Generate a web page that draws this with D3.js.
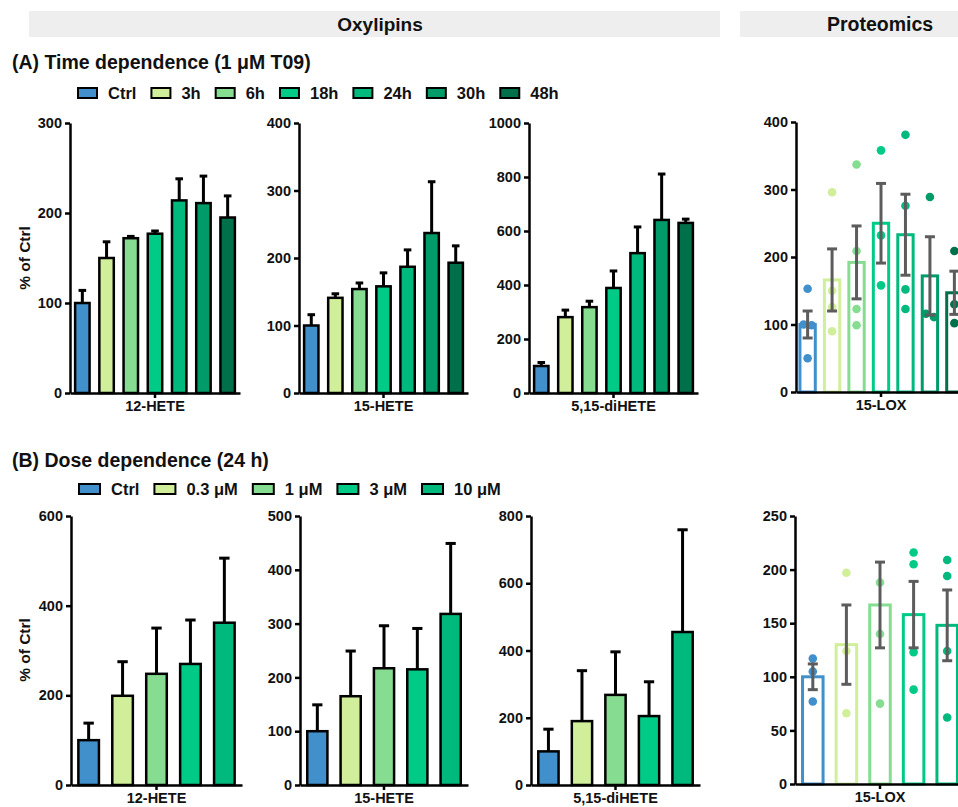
<!DOCTYPE html>
<html>
<head>
<meta charset="utf-8">
<script src="https://cdn.jsdelivr.net/npm/d3@7"></script>
<style>
  body { margin: 0; background: #fff; }
  svg { display: block; font-family: "Liberation Sans", Arial, sans-serif; font-weight: bold; }
</style>
</head>
<body>
<svg id="chart" width="958" height="807"></svg>
<script>
// groups and colours
const timeGroups = ["Ctrl", "3h", "6h", "18h", "24h", "30h", "48h"];
const timeColors = ["#418fcb", "#d1ef9a", "#86dd92", "#00cb86", "#00ba7d", "#009b69", "#00704b"];
const doseGroups = ["Ctrl", "0.3 μM", "1 μM", "3 μM", "10 μM"];
const doseColors = ["#418fcb", "#d1ef9a", "#86dd92", "#00cb86", "#00ba7d"];

// (A) time dependence, % of Ctrl, mean and upper SD
const timeHete12 = [100, 150, 172, 177, 214, 211, 195];
const timeHete12Err = [14, 18, 2, 3, 24, 30, 24];
const timeHete15 = [100, 141, 154, 158, 187, 237, 193];
const timeHete15Err = [16, 6, 9, 20, 25, 76, 25];
const timeDiHete = [100, 281, 318, 389, 518, 641, 630];
const timeDiHeteErr = [13, 26, 22, 63, 97, 170, 14];
const timeLoxMean = [100, 166, 192, 250, 233, 172, 147];
const timeLoxSem = [20, 46, 54, 59, 60, 58, 32];
const timeLoxPoints = [
  [153, 99, 100, 50],
  [296, 150, 126, 90],
  [337, 209, 123, 99],
  [358, 232, 158],
  [381, 276, 152, 123],
  [289, 116, 111],
  [209, 130, 102]
];

// (B) dose dependence
const doseHete12 = [100, 199, 248, 270, 362];
const doseHete12Err = [38, 76, 102, 98, 144];
const doseHete15 = [100, 165, 217, 215, 318];
const doseHete15Err = [49, 84, 79, 76, 131];
const doseDiHete = [100, 190, 268, 205, 455];
const doseDiHeteErr = [66, 150, 128, 102, 304];
const doseLoxMean = [100, 130, 167, 158, 148];
const doseLoxSem = [12, 37, 40, 31, 33];
const doseLoxPoints = [
  [117, 105, 77],
  [197, 124, 66],
  [188, 140, 75],
  [216, 205, 123, 88],
  [209, 194, 124, 62]
];

const svg = d3.select('#chart');

// section headers
svg.append('rect').attr('x', 29).attr('y', 11).attr('width', 691).attr('height', 26).attr('fill', '#eeeeee');
svg.append('rect').attr('x', 740).attr('y', 11).attr('width', 218).attr('height', 26).attr('fill', '#eeeeee');
svg.append('text').attr('x', 380).attr('y', 31).attr('text-anchor', 'middle')
  .attr('font-size', 19).attr('fill', '#111').text('Oxylipins');
svg.append('text').attr('x', 880).attr('y', 31).attr('text-anchor', 'middle')
  .attr('font-size', 19.5).attr('fill', '#111').text('Proteomics');

svg.append('text').attr('x', 12).attr('y', 69).attr('font-size', 19.5).attr('fill', '#111')
  .text('(A) Time dependence (1 μM T09)');
svg.append('text').attr('x', 12).attr('y', 467).attr('font-size', 19.5).attr('fill', '#111')
  .text('(B) Dose dependence (24 h)');

function legend(groups, colors, x0, y0, sw) {
  const g = svg.append('g');
  let x = x0;
  groups.forEach((name, i) => {
    g.append('rect').attr('x', x).attr('y', y0).attr('width', sw).attr('height', 10)
      .attr('fill', colors[i]).attr('stroke', '#000').attr('stroke-width', 2);
    const t = g.append('text').attr('x', x + sw + 11).attr('y', y0 + 11)
      .attr('font-size', 16.5).attr('fill', '#111').text(name);
    x += sw + 11 + t.node().getComputedTextLength() + 15;
  });
}
legend(timeGroups, timeColors, 78, 88, 19);
legend(doseGroups, doseColors, 79, 484, 21);

function axes(g, y, ticks, x0, x1, yBot, label) {
  const ya = g.append('g').attr('transform', `translate(${x0},0)`)
    .call(d3.axisLeft(y).tickValues(ticks).tickFormat(d3.format('d'))
      .tickSize(5).tickSizeOuter(0).tickPadding(3));
  const xs = d3.scaleBand().domain([label]).range([x0, x1]);
  const xa = g.append('g').attr('transform', `translate(0,${yBot})`)
    .call(d3.axisBottom(xs).tickSize(5).tickSizeOuter(0).tickPadding(3));
  [ya, xa].forEach(a => {
    a.attr('font-family', null).attr('font-size', 14.5);
    a.select('.domain').attr('stroke', '#000').attr('stroke-width', 2.5);
    a.selectAll('.tick line').attr('stroke', '#000').attr('stroke-width', 2.5);
    a.selectAll('.tick text').attr('fill', '#111');
  });
}

function yTitle(yMid) {
  svg.append('text').attr('transform', `translate(30,${yMid}) rotate(-90)`)
    .attr('text-anchor', 'middle').attr('font-size', 15.5).attr('fill', '#111').text('% of Ctrl');
}

function barPanel(p) {
  const g = svg.append('g');
  const y = d3.scaleLinear().domain([0, p.max]).range([p.yBot, p.yTop]);
  const x = d3.scaleBand().domain(p.groups).range([p.x0, p.x1])
    .paddingInner(p.pi).paddingOuter(p.po);
  const bw = x.bandwidth();
  const cap = bw * 0.45;
  const err = g.append('g').attr('stroke', '#000').attr('stroke-width', 3);
  p.groups.forEach((d, i) => {
    const cx = x(d) + bw / 2;
    const yt = y(p.values[i] + p.errs[i]);
    err.append('line').attr('x1', cx).attr('x2', cx).attr('y1', y(p.values[i])).attr('y2', yt);
    err.append('line').attr('x1', cx - cap / 2).attr('x2', cx + cap / 2).attr('y1', yt).attr('y2', yt);
  });
  g.selectAll('rect.bar').data(p.groups).join('rect').attr('class', 'bar')
    .attr('x', d => x(d) + 1.25)
    .attr('width', bw - 2.5)
    .attr('y', (d, i) => y(p.values[i]))
    .attr('height', (d, i) => y(0) - y(p.values[i]))
    .attr('fill', (d, i) => p.colors[i])
    .attr('stroke', '#000').attr('stroke-width', 2.5);
  axes(g, y, p.ticks, p.x0, p.x1, p.yBot, p.label);
}

function loxPanel(p) {
  const g = svg.append('g');
  const y = d3.scaleLinear().domain([0, p.max]).range([p.yBot, p.yTop]);
  const x = d3.scaleBand().domain(p.groups).range([p.x0, p.x1])
    .paddingInner(p.pi).paddingOuter(p.po);
  const bw = x.bandwidth();
  g.selectAll('rect.bar').data(p.groups).join('rect').attr('class', 'bar')
    .attr('x', d => x(d) + 1.5)
    .attr('width', bw - 3)
    .attr('y', (d, i) => y(p.means[i]))
    .attr('height', (d, i) => y(0) - y(p.means[i]))
    .attr('fill', '#fff')
    .attr('stroke', (d, i) => p.colors[i]).attr('stroke-width', 3);
  // individual values, nudged sideways when they would overlap
  const r = 4.3;
  p.groups.forEach((d, i) => {
    const cx = x(d) + bw / 2;
    const pts = p.points[i].map(v => ({ v, py: y(v) })).sort((a, b) => a.py - b.py);
    let cluster = [];
    const flush = () => {
      cluster.forEach((q, k) => { q.px = cx + (k - (cluster.length - 1) / 2) * 8; });
      cluster = [];
    };
    pts.forEach(q => {
      if (cluster.length && q.py - cluster[cluster.length - 1].py >= 2 * r) flush();
      cluster.push(q);
    });
    flush();
    g.selectAll(null).data(pts).join('circle')
      .attr('cx', q => q.px).attr('cy', q => q.py).attr('r', r)
      .attr('fill', p.colors[i]);
  });
  const err = g.append('g').attr('stroke', '#5c5c5c').attr('stroke-width', 3);
  const cap = 10;
  p.groups.forEach((d, i) => {
    const cx = x(d) + bw / 2;
    const hi = y(p.means[i] + p.sems[i]);
    const lo = y(p.means[i] - p.sems[i]);
    err.append('line').attr('x1', cx).attr('x2', cx).attr('y1', lo).attr('y2', hi);
    [hi, lo].forEach(yy => err.append('line')
      .attr('x1', cx - cap / 2).attr('x2', cx + cap / 2).attr('y1', yy).attr('y2', yy));
  });
  axes(g, y, p.ticks, p.x0, p.x1, p.yBot, p.label);
}

// row A
const rowA = { yTop: 123, yBot: 393, groups: timeGroups, colors: timeColors, pi: 0.3, po: 0.16 };
barPanel({ ...rowA, x0: 70, x1: 240, max: 300, ticks: [0, 100, 200, 300],
  values: timeHete12, errs: timeHete12Err, label: '12-HETE' });
barPanel({ ...rowA, x0: 299, x1: 468, max: 400, ticks: [0, 100, 200, 300, 400],
  values: timeHete15, errs: timeHete15Err, label: '15-HETE' });
barPanel({ ...rowA, x0: 529, x1: 698, max: 1000, ticks: [0, 200, 400, 600, 800, 1000],
  values: timeDiHete, errs: timeDiHeteErr, label: '5,15-diHETE' });
loxPanel({ yTop: 122, yBot: 392, groups: timeGroups, colors: timeColors, pi: 0.25, po: 0.1,
  x0: 796, x1: 966, max: 400, ticks: [0, 100, 200, 300, 400],
  means: timeLoxMean, sems: timeLoxSem, points: timeLoxPoints, label: '15-LOX' });
yTitle(258);

// row B
const rowB = { yTop: 516, yBot: 785, groups: doseGroups, colors: doseColors, pi: 0.32, po: 0.18 };
barPanel({ ...rowB, x0: 71, x1: 242, max: 600, ticks: [0, 200, 400, 600],
  values: doseHete12, errs: doseHete12Err, label: '12-HETE' });
barPanel({ ...rowB, x0: 300, x1: 468, max: 500, ticks: [0, 100, 200, 300, 400, 500],
  values: doseHete15, errs: doseHete15Err, label: '15-HETE' });
barPanel({ ...rowB, x0: 531, x1: 700, max: 800, ticks: [0, 200, 400, 600, 800],
  values: doseDiHete, errs: doseDiHeteErr, label: '5,15-diHETE' });
loxPanel({ yTop: 516, yBot: 784, groups: doseGroups, colors: doseColors, pi: 0.3, po: 0.18,
  x0: 795, x1: 965, max: 250, ticks: [0, 50, 100, 150, 200, 250],
  means: doseLoxMean, sems: doseLoxSem, points: doseLoxPoints, label: '15-LOX' });
yTitle(650);
</script>
</body>
</html>
